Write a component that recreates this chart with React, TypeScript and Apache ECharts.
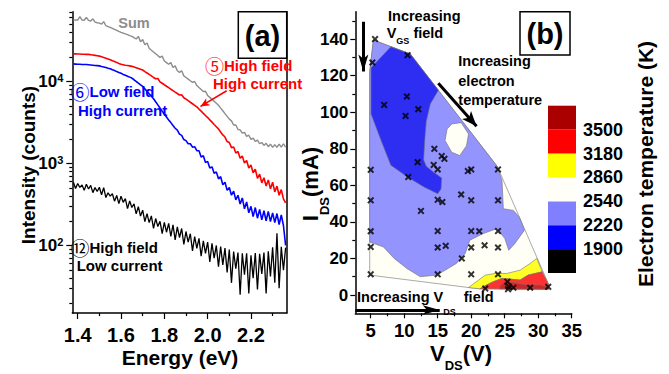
import React, { useEffect, useRef } from 'react';
import * as echarts from 'echarts';

// ---------- (a) spectra ----------
const energy = [
  1.38, 1.39, 1.40, 1.41, 1.42, 1.43, 1.44, 1.45, 1.46, 1.47,
  1.48, 1.49, 1.50, 1.51, 1.52, 1.53, 1.54, 1.55, 1.56, 1.57,
  1.58, 1.59, 1.60, 1.61, 1.62, 1.63, 1.64, 1.65, 1.66, 1.67,
  1.68, 1.69, 1.70, 1.71, 1.72, 1.73, 1.74, 1.75, 1.76, 1.77,
  1.78, 1.79, 1.80, 1.81, 1.82, 1.83, 1.84, 1.85, 1.86, 1.87,
  1.88, 1.89, 1.90, 1.91, 1.92, 1.93, 1.94, 1.95, 1.96, 1.97,
  1.98, 1.99, 2.00, 2.01, 2.02, 2.03, 2.04, 2.05, 2.06, 2.07,
  2.08, 2.09, 2.10, 2.11, 2.12, 2.13, 2.14, 2.15, 2.16, 2.17,
  2.18, 2.19, 2.20, 2.21, 2.22, 2.23, 2.24, 2.25, 2.26, 2.27,
  2.28, 2.29, 2.30, 2.31, 2.32, 2.33, 2.34, 2.35, 2.36,
];
const sumCounts = [
  56000, 56500, 56000, 61700, 56000, 55800, 60300, 55600, 54700, 58200,
  53000, 52100, 51500, 50100, 53700, 47900, 46800, 45700, 44500, 43300,
  42100, 40900, 39800, 38900, 38000, 37200, 36300, 35500, 34200, 33000,
  35500, 30600, 32400, 28100, 29500, 25400, 24100, 22900, 21800, 20700,
  19700, 20400, 17800, 17000, 16200, 17000, 14800, 15500, 13500, 12900,
  13500, 11700, 11200, 10700, 10200, 9770, 10000, 8910, 8430, 7980,
  7550, 7590, 6760, 6400, 6050, 5730, 5420, 5130, 4740, 4390,
  4060, 3750, 3470, 3310, 2950, 2950, 2600, 2570, 2340, 2400,
  2140, 2210, 1970, 2040, 1860, 1930, 1740, 1800, 1660, 1760,
  1600, 1720, 1570, 1700, 1570, 1720, 1580, 1740, 1580,
];
const redCounts = [
  21700, 21700, 21600, 21600, 21500, 21500, 21400, 21400, 21200, 21000,
  20800, 20600, 20400, 20000, 19600, 19200, 18800, 18400, 17900, 17500,
  17100, 16600, 16200, 16000, 15800, 15700, 15500, 15300, 15000, 14700,
  14400, 14100, 13800, 13200, 12700, 12200, 11700, 11200, 10800, 10900,
  9910, 9510, 9120, 8750, 8400, 8050, 7730, 7410, 7130, 6850,
  6900, 6340, 6100, 5830, 5580, 5350, 5120, 4900, 4610, 4350,
  4090, 3850, 3630, 3400, 3190, 2990, 2810, 2630, 2420, 2230,
  2100, 1850, 1800, 1560, 1590, 1340, 1400, 1160, 1230, 1010,
  1090, 880, 960, 770, 850, 660, 740, 580, 670, 530,
  630, 490, 590, 450, 530, 410, 480, 370, 330,
];
const blueCounts = [
  16400, 16300, 16200, 16200, 16100, 16100, 16100, 16000, 15900, 15800,
  15700, 15600, 15500, 15200, 15000, 14800, 14500, 14300, 13900, 13600,
  13200, 12900, 12600, 12200, 11900, 11600, 11300, 11000, 10500, 10000,
  9550, 9120, 8710, 8130, 7590, 7080, 6610, 6170, 5650, 5180,
  4740, 4350, 3980, 3680, 3400, 3150, 2910, 2690, 2550, 2280,
  2200, 1960, 1900, 1740, 1740, 1580, 1600, 1430, 1430, 1200,
  1240, 1030, 1060, 880, 910, 760, 790, 650, 690, 550,
  590, 470, 510, 410, 460, 360, 410, 320, 380, 280,
  340, 250, 300, 225, 290, 215, 275, 205, 265, 200,
  260, 195, 250, 190, 245, 180, 235, 175, 100,
];
const blackCounts = [
  589, 495, 570, 510, 547, 470, 557, 488, 540, 441,
  508, 455, 513, 415, 508, 384, 439, 400, 427, 347,
  407, 324, 398, 336, 373, 281, 350, 290, 322, 243,
  298, 228, 269, 195, 245, 190, 229, 162, 213, 170,
  197, 139, 191, 145, 186, 129, 178, 117, 168, 125,
  161, 103, 148, 110, 139, 86, 128, 92, 122, 74,
  114, 80, 110, 63, 106, 70, 100, 55, 97, 58,
  93, 47, 89, 35, 84, 52, 82, 25, 80, 44,
  80, 26, 76, 40, 81, 29, 79, 45, 82, 26,
  85, 42, 95, 35, 141, 30, 96, 50, 94,
];
const energyTicks = [1.4, 1.6, 1.8, 2.0, 2.2];
const energyMinorTicks = [1.5, 1.7, 1.9, 2.1, 2.3];
const intensityTicks = [100, 1000, 10000];
const intensityMinorTicks = [
  20, 30, 40, 50, 60, 70, 80, 90,
  200, 300, 400, 500, 600, 700, 800, 900,
  2000, 3000, 4000, 5000, 6000, 7000, 8000, 9000,
  20000, 30000, 40000, 50000, 60000, 70000,
];
// arrow from the "High field High current" label to the red curve [E, counts]
const redArrow = [[2.088, 7710], [1.967, 4970]];

// ---------- (b) contour map (V_DS, I_DS) ----------
const hullRegion = [
  [5.4, 139.5], [10.9, 131.9], [23.9, 70.3], [31.6, 5.5], [31.5, 3.2],
  [21.3, 3.4], [19.6, 4.1], [4.85, 10.9], [4.85, 122],
];
const lightBlueRegion = [
  [5.4, 139.5], [10.9, 131.9], [23.9, 70.3], [24.6, 62.7], [24.8, 47.2],
  [26.3, 46.3], [27.2, 42.5], [27.95, 35.5], [26.5, 28.1], [25.6, 24.5],
  [25.0, 31.0], [23.8, 36.3], [21.8, 33.6], [19.8, 30.0], [19.1, 22.7],
  [17.8, 17.3], [14.9, 10.9], [12.4, 10.0], [10.4, 14.5], [8.5, 20.0],
  [6.9, 26.3], [4.85, 29.0], [4.85, 122],
];
const darkBlueRegion = [
  [5.05, 124.4], [8.0, 135.8], [10.9, 131.9], [15.1, 112], [13.9, 104.5],
  [13.3, 95], [13.1, 86.3], [12.9, 74], [13.3, 70.5], [14.3, 67.5],
  [15.6, 64], [15.5, 58], [15.0, 55.4], [13.0, 59], [10.5, 64.5],
  [8.0, 71], [6.5, 85], [5.05, 99],
];
const whiteIsland = [
  [16.4, 90.8], [17.1, 93.6], [18.5, 94.3], [19.6, 88.1], [19.3, 81.7],
  [18.3, 76.3], [17.1, 78.1], [16.1, 84.5],
];
const yellowRegion = [
  [19.6, 4.1], [22.1, 10.9], [23.6, 11.8], [25.3, 11.8], [27.3, 13.6],
  [28.8, 17.3], [29.8, 20], [30.6, 12.7], [28.5, 10.9], [27.3, 8.2],
  [24.6, 9.1], [23.3, 7.3], [22.3, 5.5], [21.3, 3.4],
];
const redRegion = [
  [21.3, 3.4], [22.3, 5.5], [23.3, 7.3], [24.6, 9.1], [27.3, 8.2],
  [28.5, 10.9], [30.6, 12.7], [31.6, 5.5], [31.5, 3.2],
];
const darkRedRegion = [
  [24.2, 3.3], [24.3, 5.1], [25.0, 7.3], [26.3, 6.9], [28.3, 5.5],
  [30.3, 5.5], [31.4, 4.5], [31.5, 3.2],
];
const contourRegions = [hullRegion, lightBlueRegion, darkBlueRegion, whiteIsland, yellowRegion, redRegion, darkRedRegion];
const regionFills = ['#fffff6', '#9494ff', '#2e2ef2', '#fffff6', '#ffff26', '#ff3232', '#c82828'];

const measuredPoints = [
  [5.65, 140], [5.25, 127.2], [10.5, 131.2], [7, 104], [10.4, 108.6], [10.2, 98],
  [12.1, 101.7], [12, 72.7], [10.6, 64.5], [14.5, 80], [14.4, 71.2], [15, 68.7],
  [15.6, 76], [16, 74.5], [5, 68.5], [5, 51.8], [5, 34.9], [5, 26.3], [5, 11.3],
  [12.5, 46], [15, 52.1], [15.7, 50.9], [15, 35], [15, 26], [16.2, 26.9], [15, 11.3],
  [18.5, 55], [19.5, 67.8], [20, 68.7], [20, 51.8], [20, 35], [21.2, 34.9], [20, 26],
  [22, 27.2], [18.6, 20], [20, 11.3], [24, 68.7], [24, 51.8], [24, 35], [24, 26],
  [24, 11.3], [22.1, 3.5], [25.4, 7.3], [25.6, 4.6], [25.5, 3.2], [26.3, 4], [28.8, 4],
  [31.5, 4.5],
];
const vdsTicks = [5, 10, 15, 20, 25, 30, 35];
const vdsMinorTicks = [7.5, 12.5, 17.5, 22.5, 27.5, 32.5];
const idsTicks = [0, 20, 40, 60, 80, 100, 120, 140];
const idsMinorTicks = [10, 30, 50, 70, 90, 110, 130, 150];
// annotation arrows [[x1,y1],[x2,y2]] in (V_DS, I_DS)
const vgsArrow = [[3.9, 149.5], [3.9, 122.3]];
const tempArrow = [[15.09, 115.8], [20.8, 92.4]];
const vdsArrow = [[2.7, -8.2], [15.3, -8.2]];

// ---------- colour bar ----------
const tempLevels = [1900, 2220, 2540, 2860, 3180, 3500];
const levelColors = ['#000000', '#0000ff', '#8080ff', '#fffff8', '#ffff00', '#ff0000', '#aa0000'];

const FONT = '"Liberation Sans", Arial, Helvetica, sans-serif';
const CFONT = '"Liberation Sans", "Noto Sans CJK SC", "DejaVu Sans", sans-serif';
const CIRCFONT = '"Noto Sans CJK SC", "DejaVu Sans", sans-serif';
const X_PATH = 'path://M0,2L2,0L5,3L8,0L10,2L7,5L10,8L8,10L5,7L2,10L0,8L3,5Z';

const axLine = { show: true, onZero: false, lineStyle: { color: '#000', width: 1.5 } };
const tickStyle = { color: '#000', width: 1.2 };
const lbl = (size: number, margin: number) => ({ fontSize: size, fontWeight: 'bold', fontFamily: FONT, color: '#000', margin });

function txt(x: number, y: number, text: string, size: number, color = '#000', align = 'left', extra: any = {}) {
  return {
    type: 'text', x, y, z: 100, ...extra,
    style: { text, fill: color, fontSize: size, fontWeight: 'bold', fontFamily: CFONT, align, verticalAlign: 'middle' },
  };
}
function circText(x: number, y: number, circ: string, text: string, color: string) {
  return {
    type: 'text', x, y, z: 100,
    style: {
      text: `{c|${circ}}{t|${text}}`, align: 'left', verticalAlign: 'middle',
      rich: {
        c: { fontSize: 19, fontFamily: CIRCFONT, fill: color, color, lineHeight: 19, verticalAlign: 'middle' },
        t: { fontSize: 15, fontWeight: 'bold', fontFamily: FONT, fill: color, color, lineHeight: 19, verticalAlign: 'middle' },
      },
    },
  };
}
// block top at (x, y); main glyph centre = top + lh - main/2, subscript centre = top + pad + sub/2
function subText(x: number, y: number, text: string, main: number, lh: number, sub: number, pad: number, align: string, rotation = 0) {
  return {
    type: 'text', x, y, z: 100, rotation,
    style: {
      text, align, verticalAlign: 'top',
      rich: {
        m: { fontSize: main, fontWeight: 'bold', fontFamily: FONT, fill: '#000', color: '#000', lineHeight: lh, verticalAlign: 'bottom' },
        s: { fontSize: sub, fontWeight: 'bold', fontFamily: FONT, fill: '#000', color: '#000', lineHeight: Math.min(sub, lh), padding: [pad, 0, 0, 0], verticalAlign: 'top' },
      },
    },
  };
}

const option: any = {
  animation: false,
  backgroundColor: '#fff',
  grid: [
    { left: 72.3, top: 11.7, width: 214.4, height: 301.3, containLabel: false, outerBoundsMode: 'none' },
    { left: 355.3, top: 11.7, width: 216.4, height: 301.6, containLabel: false, outerBoundsMode: 'none' },
    { left: 548, top: 105.7, width: 28, height: 167.3, containLabel: false, outerBoundsMode: 'none' },
  ],
  xAxis: [
    { gridIndex: 0, type: 'value', min: 1.375, max: 2.365, position: 'bottom', axisLine: axLine,
      axisTick: { show: true, length: 6, customValues: energyTicks, lineStyle: tickStyle },
      axisLabel: { ...lbl(20, 12), customValues: energyTicks, formatter: (v: number) => v.toFixed(1) },
      splitLine: { show: false } },
    { gridIndex: 0, type: 'value', min: 1.375, max: 2.365, position: 'bottom', axisLine: { show: false, onZero: false },
      axisTick: { show: true, length: 3, customValues: energyMinorTicks, lineStyle: tickStyle },
      axisLabel: { show: false }, splitLine: { show: false } },
    { gridIndex: 1, type: 'value', min: 2.7, max: 35, position: 'bottom', axisLine: axLine,
      axisTick: { show: true, length: 5, customValues: vdsTicks, lineStyle: tickStyle },
      axisLabel: { ...lbl(18.5, 9.5), lineHeight: 15, customValues: vdsTicks },
      splitLine: { show: false } },
    { gridIndex: 1, type: 'value', min: 2.7, max: 35, position: 'bottom', axisLine: { show: false, onZero: false },
      axisTick: { show: true, length: 3, customValues: vdsMinorTicks, lineStyle: tickStyle },
      axisLabel: { show: false }, splitLine: { show: false } },
    { gridIndex: 2, type: 'category', data: ['T'], show: false },
  ],
  yAxis: [
    { gridIndex: 0, type: 'log', min: 15, max: 71000, position: 'left', axisLine: axLine,
      axisTick: { show: true, length: 6, customValues: intensityTicks, lineStyle: tickStyle },
      axisLabel: {
        customValues: intensityTicks, margin: 9,
        formatter: (v: number) => `{b|10}{s|${Math.round(Math.log10(v))}}`,
        rich: {
          b: { fontSize: 17, fontWeight: 'bold', fontFamily: FONT, color: '#000', lineHeight: 17, verticalAlign: 'bottom' },
          s: { fontSize: 11, fontWeight: 'bold', fontFamily: FONT, color: '#000', lineHeight: 8, verticalAlign: 'top' },
        },
      },
      splitLine: { show: false } },
    { gridIndex: 0, type: 'log', min: 15, max: 71000, position: 'left', axisLine: { show: false, onZero: false },
      axisTick: { show: true, length: 3, customValues: intensityMinorTicks, lineStyle: tickStyle },
      axisLabel: { show: false }, splitLine: { show: false } },
    { gridIndex: 0, type: 'log', min: 15, max: 71000, position: 'right', axisLine: axLine,
      axisTick: { show: false }, axisLabel: { show: false }, splitLine: { show: false } },
    { gridIndex: 1, type: 'value', min: -10, max: 155, position: 'left', axisLine: axLine,
      axisTick: { show: true, length: 5, customValues: idsTicks, lineStyle: tickStyle },
      axisLabel: { ...lbl(17, 7), customValues: idsTicks },
      splitLine: { show: false } },
    { gridIndex: 1, type: 'value', min: -10, max: 155, position: 'left', axisLine: { show: false, onZero: false },
      axisTick: { show: true, length: 3, customValues: idsMinorTicks, lineStyle: tickStyle },
      axisLabel: { show: false }, splitLine: { show: false } },
    { gridIndex: 2, type: 'value', min: 0, max: 7, position: 'right', axisLine: { show: false, onZero: false },
      axisTick: { show: false },
      axisLabel: { ...lbl(18, 7), customValues: [1, 2, 3, 4, 5, 6], formatter: (v: number) => String(tempLevels[v - 1]) },
      splitLine: { show: false } },
  ],
  series: [
    { type: 'line', name: 'Sum', xAxisIndex: 0, yAxisIndex: 0, showSymbol: false, silent: true,
      data: energy.map((e, i) => [e, sumCounts[i]]), lineStyle: { color: '#8c8c8c', width: 1.4 } },
    { type: 'line', name: 'High field High current', xAxisIndex: 0, yAxisIndex: 0, showSymbol: false, silent: true,
      data: energy.map((e, i) => [e, redCounts[i]]), lineStyle: { color: '#ff0000', width: 1.6 },
      markLine: { silent: true, symbol: ['none', 'arrow'], symbolSize: [6, 9], label: { show: false },
        lineStyle: { color: '#ff0000', width: 1.5, type: 'solid' },
        data: [[{ coord: redArrow[0] }, { coord: redArrow[1] }]] } },
    { type: 'line', name: 'Low field High current', xAxisIndex: 0, yAxisIndex: 0, showSymbol: false, silent: true,
      data: energy.map((e, i) => [e, blueCounts[i]]), lineStyle: { color: '#0000ff', width: 1.6 } },
    { type: 'line', name: 'High field Low current', xAxisIndex: 0, yAxisIndex: 0, showSymbol: false, silent: true,
      data: energy.map((e, i) => [e, blackCounts[i]]), lineStyle: { color: '#000', width: 1.3 } },
    { type: 'custom', name: 'Electron temperature', xAxisIndex: 2, yAxisIndex: 3, silent: true,
      data: contourRegions.map((r, i) => [r[0][0], r[0][1], i]),
      renderItem: (params: any, api: any) => {
        const i = params.dataIndex;
        return { type: 'polygon', shape: { points: contourRegions[i].map((p) => api.coord(p)) },
          style: { fill: regionFills[i], stroke: '#707070', lineWidth: 0.6 } };
      } },
    { type: 'scatter', name: 'Measured', xAxisIndex: 2, yAxisIndex: 3, silent: true, data: measuredPoints,
      symbol: X_PATH, symbolSize: 7, itemStyle: { color: '#000' },
      markLine: { silent: true, symbol: ['none', 'arrow'], symbolSize: [7.5, 17], label: { show: false },
        lineStyle: { color: '#000', width: 3, type: 'solid' },
        data: [
          [{ coord: vgsArrow[0] }, { coord: vgsArrow[1] }],
          [{ coord: tempArrow[0] }, { coord: tempArrow[1], symbolSize: [9, 15] }],
          [{ coord: vdsArrow[0] }, { coord: vdsArrow[1], symbolSize: [7, 17] }],
        ] } },
    ...levelColors.map((c, i) => ({
      type: 'bar', name: 'level' + i, xAxisIndex: 4, yAxisIndex: 5, stack: 'cb', data: [1], silent: true,
      barWidth: '100%', itemStyle: { color: c },
    })),
  ],
  graphic: {
    elements: [
      { type: 'rect', z: 100, shape: { x: 238.3, y: 11.7, width: 48.4, height: 46.6 }, style: { fill: '#fff', stroke: '#000', lineWidth: 1.5 } },
      txt(262.5, 35.5, '(a)', 29, '#000', 'center'),
      { type: 'rect', z: 100, shape: { x: 520, y: 11.7, width: 50, height: 43.3 }, style: { fill: '#fff', stroke: '#000', lineWidth: 1.5 } },
      txt(545, 33.5, '(b)', 29, '#000', 'center'),
      txt(134, 22.5, 'Sum', 14.5, '#8c8c8c', 'center'),
      circText(205, 65, '⑤', 'High field', '#ff0000'),
      txt(213, 83.5, 'High current', 15, '#ff0000'),
      circText(70.5, 91, '⑥', 'Low field', '#0000ff'),
      txt(78, 110, 'High current', 15, '#0000ff'),
      circText(70.5, 247, '⑫', 'High field', '#000'),
      txt(76.7, 265.5, 'Low current', 15, '#000'),
      txt(28, 165, 'Intensity (counts)', 19, '#000', 'center', { rotation: Math.PI / 2 }),
      txt(180, 357, 'Energy (eV)', 21, '#000', 'center'),
      subText(304, 184, '{m|I}{s|DS}{m|(mA)}', 22, 17, 13, 14, 'center', Math.PI / 2),
      subText(430, 347.5, '{m|V}{s|DS}{m|(V)}', 22, 17, 13, 11.5, 'left'),
      txt(388, 16, 'Increasing', 14.5),
      subText(386.7, 26, '{m|V}{s|GS}{m| field}', 14.5, 14.5, 9, 10, 'left'),
      txt(458.3, 61, 'Increasing', 14.5),
      txt(458.3, 80.5, 'electron', 14.5),
      txt(458.3, 99.5, 'temperature', 14.5),
      subText(357, 290, '{m|Increasing V}{s|DS}{m|  field}', 14.5, 14.5, 9, 17, 'left'),
      txt(645, 164, 'Electron temperature (K)', 21, '#000', 'center', { rotation: Math.PI / 2 }),
    ],
  },
};

export default function App() {
  const ref = useRef<HTMLDivElement>(null);
  useEffect(() => {
    if (!ref.current) return;
    const chart = echarts.init(ref.current, null, { renderer: 'svg' });
    chart.setOption(option);
    return () => chart.dispose();
  }, []);
  return <div ref={ref} style={{ position: 'fixed', left: 0, top: 0, width: 669, height: 374, background: '#fff' }} />;
}
